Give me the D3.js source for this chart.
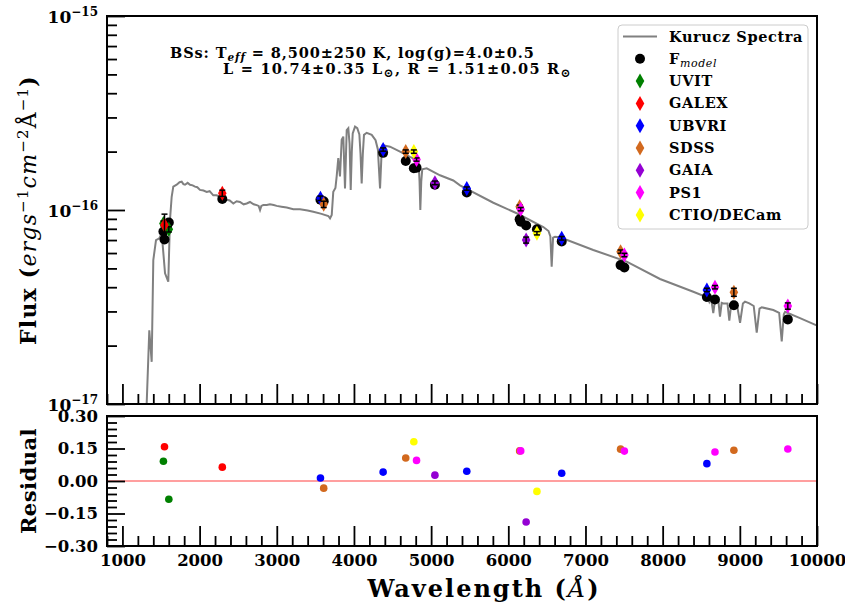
<!DOCTYPE html>
<html>
<head>
<meta charset="utf-8">
<script src="https://cdn.jsdelivr.net/npm/d3@7"></script>
<style>
  body { margin: 0; background: #fff; }
  svg { display: block; font-family: "DejaVu Serif", serif; font-weight: bold; }
</style>
</head>
<body>
<div id="container"></div>
<script>
/* CONSTANTS AND GLOBALS */
const width = 845, height = 605;
const left = 107, right = 817;
const top1 = 16, bottom1 = 404, top2 = 416, bottom2 = 546;
const FLUX_UNIT = 1e-17;

// KURUCZ SPECTRUM: wavelength (A) and flux (x 1e-17 erg/s/cm2/A)
const specWave = [1300, 1314, 1348, 1379, 1400, 1435, 1478, 1509, 1552, 1594, 1616, 1638, 1659, 1703, 1740, 1768, 1790, 1811, 1845, 1876,
  1910, 1940, 1970, 2005, 2050, 2092, 2130, 2177, 2220, 2264, 2300, 2351, 2390, 2437, 2480, 2523, 2570, 2610, 2653, 2700,
  2740, 2765, 2783, 2800, 2825, 2870, 2912, 2960, 2999, 3060, 3129, 3214, 3301, 3400, 3473, 3580, 3668, 3690, 3712, 3732,
  3760, 3776, 3797, 3819, 3841, 3862, 3884, 3906, 3927, 3943, 3958, 3972, 3984, 4014, 4043, 4070, 4085, 4100, 4115, 4130,
  4165, 4230, 4280, 4310, 4338, 4355, 4373, 4467, 4597, 4726, 4813, 4838, 4850, 4860, 4872, 4885, 4943, 5115, 5287, 5374,
  5806, 6109, 6454, 6521, 6545, 6562, 6580, 6605, 6670, 7101, 7534, 7966, 8397, 8527, 8555, 8581, 8605, 8627, 8656, 8680,
  8700, 8722, 8743, 8765, 8786, 8840, 8864, 8890, 8908, 8960, 9003, 9040, 9067, 9123, 9180, 9219, 9255, 9284, 9434, 9510,
  9543, 9570, 9586, 9780, 9987, 10100];
const specFlux = [0.8, 1.0, 2.40, 1.65, 5.52, 7.00, 7.15, 7.58, 4.72, 4.27, 8.88, 11.7, 13.2, 13.5, 13.9, 14.0, 13.6, 13.5, 13.8, 13.5,
  13.4, 13.2, 13.1, 12.7, 12.6, 12.4, 12.5, 11.9, 11.9, 11.7, 11.5, 11.3, 11.2, 10.8, 11.1, 11.0, 10.7, 10.8, 11.0, 10.7,
  10.6, 10.5, 10.0, 10.5, 10.6, 10.6, 10.7, 10.6, 10.5, 10.4, 10.3, 10.1, 10.1, 9.95, 9.80, 9.55, 9.31, 9.06, 9.42, 12.4,
  13.0, 14.9, 18.5, 14.9, 23.0, 23.9, 12.9, 25.8, 26.4, 22.0, 12.7, 20.0, 24.8, 26.9, 26.4, 24.5, 19.5, 13.7, 19.5, 24.4,
  25.0, 24.4, 22.9, 20.5, 12.9, 18.5, 21.6, 21.2, 20.0, 18.8, 18.1, 17.6, 14.0, 10.0, 14.0, 16.2, 16.4, 15.1, 14.2, 13.4,
  10.9, 9.62, 8.17, 7.79, 7.30, 5.10, 7.20, 7.28, 7.23, 6.22, 5.42, 4.41, 3.79, 3.61, 3.44, 3.57, 3.36, 3.51, 2.94, 3.46,
  3.44, 3.40, 2.82, 3.32, 3.30, 3.30, 2.69, 3.30, 3.37, 3.30, 2.62, 3.30, 3.37, 3.30, 3.20, 2.33, 3.10, 3.15, 3.05, 2.95,
  2.10, 2.90, 2.99, 2.77, 2.55, 2.45];

// PHOTOMETRY (flux x 1e-17), one entry per filter
const surveys = ["UVIT", "GALEX", "UBVRI", "SDSS", "GAIA", "PS1", "CTIO/DECam"];
const photSurvey = ["UVIT", "UVIT", "GALEX", "GALEX", "UBVRI", "UBVRI", "UBVRI", "UBVRI", "UBVRI",
  "SDSS", "SDSS", "SDSS", "SDSS", "SDSS", "GAIA", "GAIA", "PS1", "PS1", "PS1", "PS1", "PS1", "CTIO/DECam", "CTIO/DECam"];
const photWave = [1531, 1601, 1545, 2294, 3566, 4378, 5462, 6692, 8573,
  3608, 4671, 6147, 7455, 8923, 5049, 6231, 4811, 6161, 7504, 8678, 9622, 4776, 6371];
const photFlux = [8.52, 7.95, 8.37, 12.2, 11.5, 20.5, 12.9, 7.15, 3.87,
  10.7, 20.0, 10.4, 6.10, 3.77, 13.8, 7.00, 18.2, 10.1, 5.86, 4.00, 3.20, 20.0, 7.59];
const photErr = [0.25, 0.25, 1.15, 0.45, 0.30, 0.40, 0.25, 0.15, 0.08,
  0.40, 0.40, 0.20, 0.12, 0.18, 0.30, 0.25, 0.35, 0.20, 0.12, 0.08, 0.12, 0.40, 0.15];
const modelFlux = [7.74, 8.62, 7.05, 11.4, 11.3, 19.7, 12.3, 6.89, 3.56,
  11.1, 17.9, 8.96, 5.20, 3.23, 13.5, 8.32, 16.5, 8.70, 5.05, 3.46, 2.73, 16.4, 7.95];
const residual = [0.091, -0.084, 0.158, 0.064, 0.014, 0.041, 0.045, 0.036, 0.080,
  -0.033, 0.106, 0.139, 0.147, 0.142, 0.027, -0.189, 0.095, 0.139, 0.138, 0.134, 0.148, 0.181, -0.048];

// TICKS
const fluxMajor = [1e-17, 1e-16, 1e-15];
const fluxExp = ["\u221217", "\u221216", "\u221215"];
const waveMajor = d3.range(1000, 10001, 1000);
const resMajor = [-0.30, -0.15, 0.00, 0.15, 0.30];

const colors = { "UVIT": "green", "GALEX": "red", "UBVRI": "blue", "SDSS": "chocolate",
  "GAIA": "darkviolet", "PS1": "magenta", "CTIO/DECam": "yellow" };

const phot = photWave.map((w, i) => ({
  survey: photSurvey[i], wave: w, flux: photFlux[i] * FLUX_UNIT, err: photErr[i] * FLUX_UNIT,
  model: modelFlux[i] * FLUX_UNIT, res: residual[i]
}));

// APPEND SVG
const svg = d3.select("#container").append("svg")
  .attr("width", width).attr("height", height);
svg.append("rect").attr("width", width).attr("height", height).attr("fill", "white");

// SCALES
const x = d3.scaleLinear().domain([800, 10000]).range([left, right]);
const yFlux = d3.scaleLog().domain([1e-17, 1e-15]).range([bottom1, top1]);
const yRes = d3.scaleLinear().domain([-0.3, 0.3]).range([bottom2, top2]);

const defs = svg.append("defs");
defs.append("clipPath").attr("id", "clipTop").append("rect")
  .attr("x", left).attr("y", top1).attr("width", right - left).attr("height", bottom1 - top1);

const diamond = "M0,-7.5L4.3,0L0,7.5L-4.3,0Z";

// SPECTRUM
const spec = specWave.map((w, i) => [w, specFlux[i] * FLUX_UNIT]);
svg.append("path")
  .datum(spec)
  .attr("clip-path", "url(#clipTop)")
  .attr("d", d3.line().x(d => x(d[0])).y(d => yFlux(d[1])))
  .attr("fill", "none")
  .attr("stroke", "gray")
  .attr("stroke-width", 2);

// MODEL FLUX
svg.append("g").selectAll("circle")
  .data(phot)
  .join("circle")
  .attr("cx", d => x(d.wave))
  .attr("cy", d => yFlux(d.model))
  .attr("r", 5)
  .attr("fill", "black");

// OBSERVED FLUX, one survey after another
surveys.forEach(s => {
  const rows = phot.filter(d => d.survey === s);
  svg.append("g").selectAll("path")
    .data(rows)
    .join("path")
    .attr("d", diamond)
    .attr("transform", d => `translate(${x(d.wave)},${yFlux(d.flux)})`)
    .attr("fill", colors[s]);
  const eb = svg.append("g").attr("stroke", "black").attr("stroke-width", 1.5);
  rows.forEach(d => {
    const cx = x(d.wave), y0 = yFlux(d.flux + d.err), y1 = yFlux(d.flux - d.err);
    eb.append("line").attr("x1", cx).attr("x2", cx).attr("y1", y0).attr("y2", y1);
    eb.append("line").attr("x1", cx - 3).attr("x2", cx + 3).attr("y1", y0).attr("y2", y0);
    eb.append("line").attr("x1", cx - 3).attr("x2", cx + 3).attr("y1", y1).attr("y2", y1);
  });
});

// RESIDUALS
svg.append("line")
  .attr("x1", left).attr("x2", right)
  .attr("y1", yRes(0)).attr("y2", yRes(0))
  .attr("stroke", "red").attr("stroke-opacity", 0.5).attr("stroke-width", 1.5);

surveys.forEach(s => {
  svg.append("g").selectAll("circle")
    .data(phot.filter(d => d.survey === s))
    .join("circle")
    .attr("cx", d => x(d.wave))
    .attr("cy", d => yRes(d.res))
    .attr("r", 3.8)
    .attr("fill", colors[s]);
});

// AXES
function styleAxis(g) {
  g.select(".domain").remove();
  g.selectAll(".tick line").attr("stroke", "black").attr("stroke-width", 1.8);
  g.selectAll("text").attr("font-family", "DejaVu Serif").attr("font-size", 16.5).attr("font-weight", "bold").attr("fill", "black");
}
const fluxMinor = d3.range(2, 10).flatMap(k => [k * 1e-17, k * 1e-16]);
const waveMinor = d3.range(800, 10001, 200).filter(v => v % 1000 !== 0);
const resMinor = d3.range(-10, 11).filter(i => i % 5 !== 0).map(i => i * 0.03);

svg.append("g").attr("transform", `translate(${left},0)`)
  .call(d3.axisLeft(yFlux).tickValues(fluxMajor).tickSize(-18).tickFormat("")).call(styleAxis);
svg.append("g").attr("transform", `translate(${left},0)`)
  .call(d3.axisLeft(yFlux).tickValues(fluxMinor).tickSize(-10).tickFormat("")).call(styleAxis);
svg.append("g").attr("transform", `translate(0,${bottom1})`)
  .call(d3.axisBottom(x).tickValues(waveMajor).tickSize(-20).tickFormat("")).call(styleAxis);
svg.append("g").attr("transform", `translate(0,${bottom1})`)
  .call(d3.axisBottom(x).tickValues(waveMinor).tickSize(-10).tickFormat("")).call(styleAxis);

svg.append("g").attr("transform", `translate(${left},0)`)
  .call(d3.axisLeft(yRes).tickValues(resMajor).tickSize(-18).tickPadding(9).tickFormat(d3.format(".2f"))).call(styleAxis);
svg.append("g").attr("transform", `translate(${left},0)`)
  .call(d3.axisLeft(yRes).tickValues(resMinor).tickSize(-10).tickFormat("")).call(styleAxis);
svg.append("g").attr("transform", `translate(0,${bottom2})`)
  .call(d3.axisBottom(x).tickValues(waveMajor).tickSize(-20).tickPadding(8).tickFormat(d3.format("d"))).call(styleAxis);
svg.append("g").attr("transform", `translate(0,${bottom2})`)
  .call(d3.axisBottom(x).tickValues(waveMinor).tickSize(-10).tickFormat("")).call(styleAxis);

// LOG TICK LABELS
svg.append("g").selectAll("text")
  .data(fluxMajor)
  .join("text")
  .attr("x", left - 9)
  .attr("y", d => yFlux(d) + 7)
  .attr("text-anchor", "end")
  .attr("font-size", 17)
  .each(function (d, i) {
    const t = d3.select(this);
    t.append("tspan").text("10");
    t.append("tspan").attr("dy", -7).attr("font-size", 12).text(fluxExp[i]);
  });

// FRAMES
[[top1, bottom1], [top2, bottom2]].forEach(([t, b]) => {
  svg.append("rect").attr("x", left).attr("y", t).attr("width", right - left).attr("height", b - t)
    .attr("fill", "none").attr("stroke", "black").attr("stroke-width", 2);
});

// AXIS TITLES
const xt = svg.append("text").attr("x", 484).attr("y", 597)
  .attr("text-anchor", "middle").attr("font-size", 24).attr("letter-spacing", 2);
xt.append("tspan").text("Wavelength (");
xt.append("tspan").attr("font-style", "italic").attr("font-weight", "normal").text("\u00c5");
xt.append("tspan").text(")");

const yt = svg.append("text").attr("transform", "translate(36,210) rotate(-90)")
  .attr("text-anchor", "middle").attr("font-size", 22).attr("letter-spacing", 1.2);
yt.append("tspan").text("Flux (");
yt.append("tspan").attr("font-style", "italic").attr("font-weight", "normal").text("ergs");
yt.append("tspan").attr("dy", -8).attr("font-size", 15).attr("font-weight", "normal").text("\u22121");
yt.append("tspan").attr("dy", 8).attr("font-style", "italic").attr("font-weight", "normal").text("cm");
yt.append("tspan").attr("dy", -8).attr("font-size", 15).attr("font-weight", "normal").text("\u22122");
yt.append("tspan").attr("dy", 8).attr("font-weight", "normal").text("\u00c5");
yt.append("tspan").attr("dy", -8).attr("font-size", 15).attr("font-weight", "normal").text("\u22121");
yt.append("tspan").attr("dy", 8).text(")");

svg.append("text").attr("transform", `translate(36,${yRes(0)}) rotate(-90)`)
  .attr("text-anchor", "middle").attr("font-size", 21).attr("letter-spacing", 0.5).text("Residual");

// ANNOTATION
const a1 = svg.append("text").attr("x", 170).attr("y", 58).attr("font-size", 14.5).attr("letter-spacing", 0.9);
a1.append("tspan").text("BSs: T");
a1.append("tspan").attr("dy", 3).attr("font-size", 10.5).attr("font-style", "italic").text("eff");
a1.append("tspan").attr("dy", -3).text(" = 8,500\u00b1250 K, log(g)=4.0\u00b10.5");
const a2 = svg.append("text").attr("x", 223).attr("y", 74).attr("font-size", 14.5).attr("letter-spacing", 1.25);
a2.append("tspan").text("L = 10.74\u00b10.35 L");
a2.append("tspan").attr("dy", 3).attr("font-size", 12).text("\u2299");
a2.append("tspan").attr("dy", -3).text(", R = 1.51\u00b10.05 R");
a2.append("tspan").attr("dy", 3).attr("font-size", 12).text("\u2299");

// LEGEND
const lg = svg.append("g");
lg.append("rect").attr("x", 618).attr("y", 25).attr("width", 190).attr("height", 204).attr("rx", 4)
  .attr("fill", "white").attr("fill-opacity", 0.8).attr("stroke", "#cccccc").attr("stroke-width", 1);
const rowY = i => 36.5 + i * 22.3;
lg.append("line").attr("x1", 623).attr("x2", 657).attr("y1", rowY(0)).attr("y2", rowY(0))
  .attr("stroke", "gray").attr("stroke-width", 2);
lg.append("circle").attr("cx", 640).attr("cy", rowY(1)).attr("r", 5).attr("fill", "black");
surveys.forEach((s, i) => {
  lg.append("path").attr("d", diamond).attr("transform", `translate(640,${rowY(i + 2)})`).attr("fill", colors[s]);
});
const legendLabels = ["Kurucz Spectra", "F", ...surveys];
lg.selectAll("text.lab")
  .data(legendLabels)
  .join("text")
  .attr("class", "lab")
  .attr("x", 669)
  .attr("y", (d, i) => rowY(i) + 5)
  .attr("font-size", 14.5)
  .attr("letter-spacing", 0.6)
  .text(d => d);
const fm = lg.selectAll("text.lab").filter(d => d === "F");
fm.append("tspan").attr("dy", 3).attr("font-size", 11).attr("font-style", "italic").attr("font-weight", "normal").text("model");
</script>
</body>
</html>
